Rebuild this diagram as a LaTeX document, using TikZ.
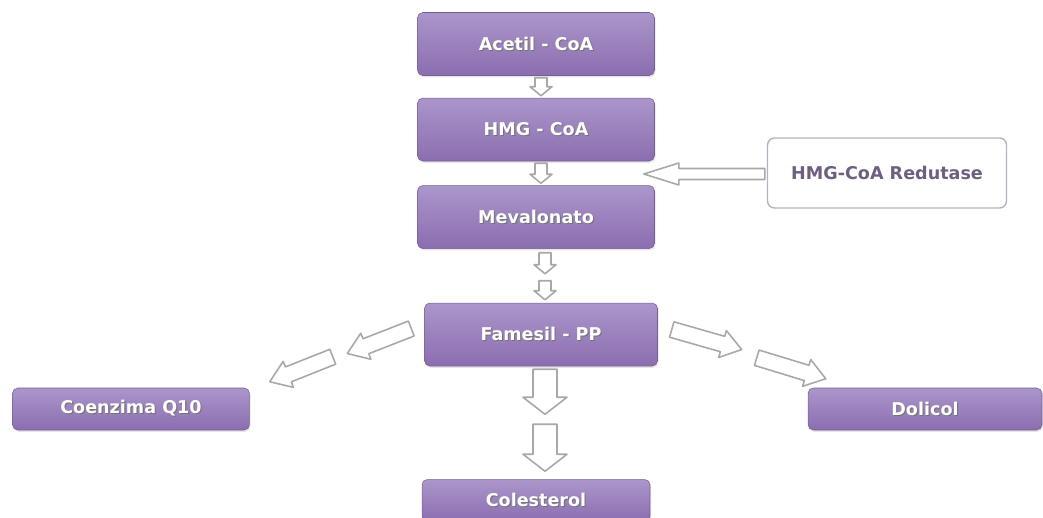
\documentclass[tikz,border=0pt]{standalone}
\usepackage{fontspec}
\setmainfont{DejaVu Sans}
\usetikzlibrary{positioning,calc,shadows}
\definecolor{boxtop}{HTML}{AB96CA}
\definecolor{boxbot}{HTML}{8B6DB0}
\definecolor{arrline}{HTML}{A8A8A8}
\definecolor{enztext}{HTML}{6E5E80}
\definecolor{enzline}{HTML}{B8B0C0}
\tikzstyle{stepbox} = [rectangle,rounded corners=3pt,top color=boxtop,bottom color=boxbot,draw=boxbot!85!black,line width=0.3pt,minimum width=4.74cm,minimum height=1.26cm,text=white,font=\fontsize{10}{12}\selectfont\bfseries,drop shadow={opacity=0.2,shadow xshift=0.6pt,shadow yshift=-1pt}]
\tikzstyle{enzbox} = [rectangle,rounded corners=4pt,draw=enzline,fill=white,line width=0.8pt,minimum width=4.78cm,minimum height=1.4cm,text=enztext,font=\fontsize{10}{12}\selectfont\bfseries]
\tikzstyle{arr} = [draw=arrline,fill=white,line width=0.9pt,line join=round]
% text with a small dark shadow
\newcommand{\shtxt}[1]{\makebox[0pt][l]{\hspace{0.6pt}\raisebox{-0.6pt}{\textcolor{black!55}{#1}}}#1}
% hollow block arrow: start, end, shaft half width, head half width, head length
\newcommand{\blockarr}[5]{%
  \coordinate (hb) at ($(#2)!#5!(#1)$);
  \draw[arr] ($(#1)!#3!90:(#2)$) -- ($(hb)!#3!90:(#2)$) -- ($(hb)!#4!90:(#2)$) -- (#2)
    -- ($(hb)!#4!-90:(#2)$) -- ($(hb)!#3!-90:(#2)$) -- ($(#1)!#3!-90:(#2)$) -- cycle;}

\begin{document}
\begin{tikzpicture}[x=0.02cm,y=-0.02cm]
\useasboundingbox (0,0) rectangle (1043,517);

\node[stepbox] (acetil) at (536,44) {\shtxt{Acetil - CoA}};
\node[stepbox,below=0.44cm of acetil] (hmg) {\shtxt{HMG - CoA}};
\node[stepbox,below=0.48cm of hmg] (meval) {\shtxt{Mevalonato}};
\node[stepbox,minimum width=4.66cm,below=1.08cm of meval,xshift=0.1cm] (famesil) {\shtxt{Famesil - PP}};
\node[stepbox,minimum width=4.56cm,minimum height=0.84cm,below=2.26cm of famesil,xshift=-0.1cm] (colest) {\shtxt{Colesterol}};
\node[stepbox,minimum height=0.84cm] (coenz) at (131,409) {\shtxt{Coenzima Q10}};
\node[stepbox,minimum width=4.68cm,minimum height=0.84cm] (dolicol) at (925,409) {\shtxt{Dolicol}};
\node[enzbox] (redut) at (887,173) {HMG-CoA Redutase};

% main chain
\coordinate (c1a) at ($(acetil.south)+(5,2)$);
\coordinate (c1b) at ($(hmg.north)+(5,-2)$);
\blockarr{c1a}{c1b}{0.12cm}{0.22cm}{0.18cm}
\coordinate (c2a) at ($(hmg.south)+(5,2)$);
\coordinate (c2b) at ($(meval.north)+(5,-2)$);
\blockarr{c2a}{c2b}{0.12cm}{0.22cm}{0.18cm}
\coordinate (c3a) at ($(meval.south)+(9,4)$);
\coordinate (c3b) at ($(meval.south)+(9,25)$);
\blockarr{c3a}{c3b}{0.12cm}{0.22cm}{0.18cm}
\coordinate (c4a) at ($(famesil.north)+(4,-22)$);
\coordinate (c4b) at ($(famesil.north)+(4,-3)$);
\blockarr{c4a}{c4b}{0.12cm}{0.22cm}{0.18cm}
\coordinate (c5a) at ($(famesil.south)+(4,3)$);
\coordinate (c5b) at ($(famesil.south)+(4,48)$);
\blockarr{c5a}{c5b}{0.24cm}{0.44cm}{0.34cm}
\coordinate (c6a) at ($(colest.north)+(9,-55)$);
\coordinate (c6b) at ($(colest.north)+(9,-8)$);
\blockarr{c6a}{c6b}{0.24cm}{0.44cm}{0.34cm}

% side branches
\coordinate (l1a) at ($(famesil.west)+(-13,-6)$);
\coordinate (l1b) at ($(famesil.west)+(-77,19)$);
\blockarr{l1a}{l1b}{0.16cm}{0.28cm}{0.4cm}
\coordinate (l2a) at ($(coenz.north east)+(83,-31)$);
\coordinate (l2b) at ($(coenz.north east)+(20,-6)$);
\blockarr{l2a}{l2b}{0.16cm}{0.28cm}{0.4cm}
\coordinate (r1a) at ($(famesil.east)+(14,-5)$);
\coordinate (r1b) at ($(famesil.east)+(84,15)$);
\blockarr{r1a}{r1b}{0.16cm}{0.28cm}{0.4cm}
\coordinate (r2a) at ($(dolicol.north west)+(-51,-30)$);
\coordinate (r2b) at ($(dolicol.north west)+(18,-9)$);
\blockarr{r2a}{r2b}{0.16cm}{0.28cm}{0.4cm}

% enzyme
\coordinate (e1a) at ($(redut.west)+(-2,1)$);
\coordinate (e1b) at ($(redut.west)+(-123,1)$);
\blockarr{e1a}{e1b}{0.11cm}{0.22cm}{0.7cm}
\end{tikzpicture}
\end{document}
